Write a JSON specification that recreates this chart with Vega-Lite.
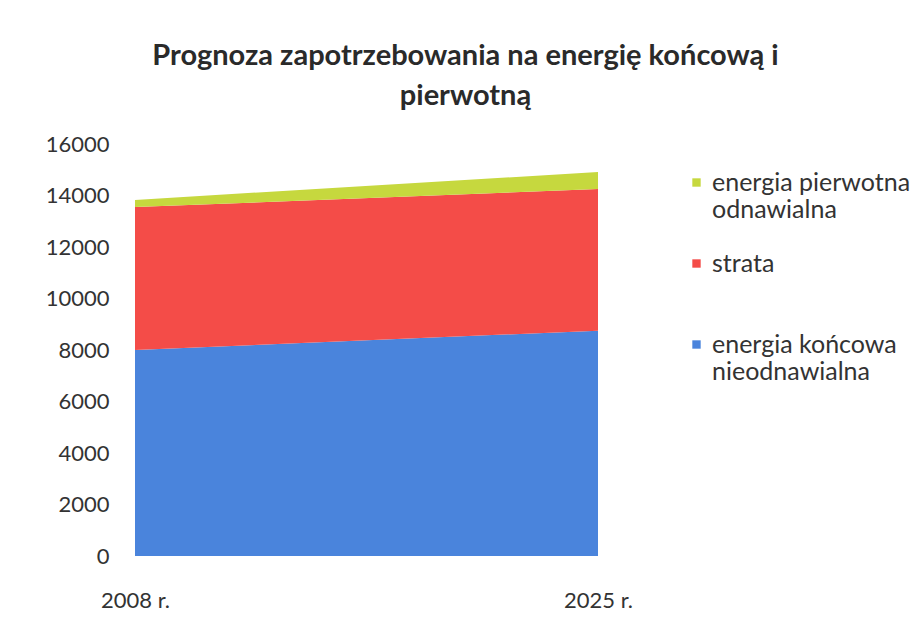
{
  "$schema": "https://vega.github.io/schema/vega-lite/v6.json",
  "autosize": "none",
  "width": 463,
  "height": 412,
  "padding": {"left": 135, "top": 144, "right": 317, "bottom": 81},
  "background": "white",
  "config": {"font": "Lato", "view": {"stroke": null}},
  "title": {
    "text": ["Prognoza zapotrzebowania na energię końcową i", "pierwotną"],
    "font": "Lato",
    "fontSize": 29,
    "fontWeight": "bold",
    "color": "#2a2a2a",
    "anchor": "middle",
    "frame": "group",
    "dx": 99,
    "offset": 22,
    "lineHeight": 40
  },
  "data": {
    "values": [
      {"rok": "2008 r.", "seria": "energia końcowa nieodnawialna", "kolejnosc": 1, "wartosc": 8000},
      {"rok": "2025 r.", "seria": "energia końcowa nieodnawialna", "kolejnosc": 1, "wartosc": 8750},
      {"rok": "2008 r.", "seria": "strata", "kolejnosc": 2, "wartosc": 5550},
      {"rok": "2025 r.", "seria": "strata", "kolejnosc": 2, "wartosc": 5500},
      {"rok": "2008 r.", "seria": "energia pierwotna odnawialna", "kolejnosc": 3, "wartosc": 280},
      {"rok": "2025 r.", "seria": "energia pierwotna odnawialna", "kolejnosc": 3, "wartosc": 660}
    ]
  },
  "mark": {"type": "area", "opacity": 1},
  "encoding": {
    "x": {
      "field": "rok",
      "type": "ordinal",
      "scale": {"type": "point", "padding": 0},
      "axis": {
        "title": null,
        "labelAngle": 0,
        "labelFontSize": 22,
        "labelColor": "#333333",
        "labelPadding": 34,
        "domain": false,
        "ticks": false,
        "grid": false
      }
    },
    "y": {
      "field": "wartosc",
      "type": "quantitative",
      "stack": "zero",
      "scale": {"domain": [0, 16000], "nice": false},
      "axis": {
        "title": null,
        "values": [0, 2000, 4000, 6000, 8000, 10000, 12000, 14000, 16000],
        "format": "d",
        "labelFontSize": 22,
        "labelColor": "#333333",
        "labelPadding": 26,
        "domain": false,
        "ticks": false,
        "grid": false
      }
    },
    "order": {"field": "kolejnosc", "type": "quantitative"},
    "color": {
      "field": "seria",
      "type": "nominal",
      "scale": {
        "domain": ["energia pierwotna odnawialna", "strata", "energia końcowa nieodnawialna"],
        "range": ["#c6d83e", "#f44c48", "#4a84dc"]
      },
      "legend": {
        "title": null,
        "orient": "none",
        "legendX": 549,
        "legendY": 26,
        "symbolType": "square",
        "symbolSize": 70,
        "symbolStrokeWidth": 0,
        "labelFontSize": 25,
        "labelColor": "#333333",
        "labelLimit": 300,
        "labelOffset": 3,
        "rowPadding": 28,
        "labelExpr": "datum.label == 'strata' ? ['strata', ' '] : datum.label == 'energia pierwotna odnawialna' ? ['energia pierwotna', 'odnawialna'] : ['energia końcowa', 'nieodnawialna']"
      }
    }
  }
}
